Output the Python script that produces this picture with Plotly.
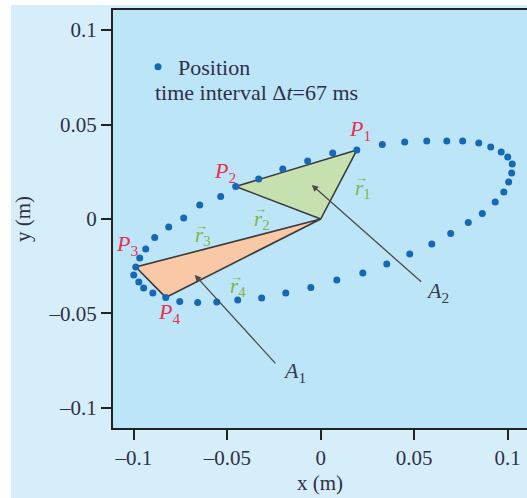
import plotly.graph_objects as go

# ---- data (metres) ----
pos_x = [0.0193, 0.0064, -0.0070, -0.0203, -0.0332, -0.0455, -0.0535, -0.0647, -0.0733,
         -0.0813, -0.0888, -0.0936, -0.0968, -0.0989, -0.1000, -0.0973, -0.0947, -0.0898,
         -0.0829, -0.0754, -0.0658, -0.0556, -0.0444, -0.0316, -0.0187, -0.0053, 0.0086,
         0.0225, 0.0353, 0.0476, 0.0594, 0.0695, 0.0789, 0.0864, 0.0933, 0.0979, 0.1005,
         0.1021, 0.1024, 0.1000, 0.0965, 0.0909, 0.0845, 0.0759, 0.0674, 0.0567, 0.0449,
         0.0329]
pos_y = [0.0365, 0.0349, 0.0307, 0.0265, 0.0212, 0.0172, 0.0119, 0.0074, 0.0005,
         -0.0042, -0.0098, -0.0159, -0.0206, -0.0254, -0.0296, -0.0333, -0.0365, -0.0392,
         -0.0415, -0.0437, -0.0442, -0.0439, -0.0429, -0.0418, -0.0392, -0.0362, -0.0323,
         -0.0286, -0.0238, -0.0185, -0.0132, -0.0077, -0.0019, 0.0029, 0.0090, 0.0143, 0.0196,
         0.0243, 0.0291, 0.0328, 0.0354, 0.0381, 0.0402, 0.0413, 0.0413, 0.0413, 0.0407,
         0.0394]
p_index = [0, 5, 13, 18]          # P1, P2, P3, P4
focus = (0.0, 0.0)
tick_vals = [-0.1, -0.05, 0, 0.05, 0.1]
tick_text = ["\u20130.1", "\u20130.05", "0", "0.05", "0.1"]

# label positions (data coords)
p_label_x = [0.0209, -0.0513, -0.1037, -0.0813]
p_label_y = [0.0471, 0.0249, -0.0138, -0.0500]
r_label_x = [0.0171, -0.0369, -0.0684, -0.0497]
r_label_y = [0.0160, -0.0005, -0.0090, -0.0360]
area_label = [(-0.0139, -0.0810), (0.0626, -0.0386)]
area_point = [(-0.0674, -0.0296), (-0.0048, 0.0180)]
area_tail = [(-0.0235, -0.0772), (0.0545, -0.0339)]

SERIF = "Liberation Serif"
DOT = "#1668b5"
PLOT_BG = "#bde5f8"
PAPER_BG = "#d5eefa"
TXT = "#2f2f48"
GREEN = "#7cb544"

fig = go.Figure()

def tri(i, j, color):
    xs = [focus[0], pos_x[i], pos_x[j], focus[0]]
    ys = [focus[1], pos_y[i], pos_y[j], focus[1]]
    fig.add_trace(go.Scatter(x=xs, y=ys, mode="lines", fill="toself", fillcolor=color,
                             line=dict(color="#3a3a3a", width=1.6), showlegend=False,
                             hoverinfo="skip"))

tri(p_index[0], p_index[1], "#c7e0b0")
tri(p_index[2], p_index[3], "#f9c8a6")

fig.add_trace(go.Scatter(x=pos_x, y=pos_y, mode="markers", name="Position",
                         marker=dict(color=DOT, size=7), showlegend=True))

ann = []
for k in range(4):
    ann.append(dict(x=p_label_x[k], y=p_label_y[k], xref="x", yref="y",
                    text=f"<i>P</i><sub>{k+1}</sub>", showarrow=False,
                    font=dict(family=SERIF, size=22, color="#e8314f")))
    ann.append(dict(x=r_label_x[k], y=r_label_y[k], xref="x", yref="y",
                    xanchor="left", yanchor="middle",
                    text=f"<i>r</i><sub>{k+1}</sub>", showarrow=False,
                    font=dict(family=SERIF, size=21, color=GREEN)))
    ann.append(dict(x=r_label_x[k], y=r_label_y[k], xref="x", yref="y",
                    xanchor="left", yanchor="middle", xshift=0, yshift=11,
                    text="\u2192", showarrow=False,
                    font=dict(family=SERIF, size=13, color=GREEN)))
for k in range(2):
    ann.append(dict(x=area_point[k][0], y=area_point[k][1], xref="x", yref="y",
                    ax=area_tail[k][0], ay=area_tail[k][1], axref="x", ayref="y",
                    text="", showarrow=True, arrowhead=2, arrowsize=1, arrowwidth=1.3,
                    arrowcolor="#4a4a4a"))
    ann.append(dict(x=area_label[k][0], y=area_label[k][1], xref="x", yref="y",
                    text="<i>A</i><sub>%d</sub>" % (k + 1), showarrow=False,
                    font=dict(family=SERIF, size=22, color="#3a3a4a")))
ann.append(dict(x=(153-113)/414, y=(428-93)/418, xref="paper", yref="paper",
                xanchor="left", yanchor="middle", showarrow=False,
                text="time interval \u0394<i>t</i>=67 ms",
                font=dict(family=SERIF, size=22, color=TXT)))

shapes = [
    dict(type="rect", xref="paper", yref="paper", x0=-0.3, x1=(11-113)/414,
         y0=-0.3, y1=1.1, fillcolor="white", line=dict(width=0), layer="below"),
    dict(type="rect", xref="paper", yref="paper", x0=-0.3, x1=1.1,
         y0=(428-5)/418, y1=1.1, fillcolor="white", line=dict(width=0), layer="below"),
]

axis_common = dict(tickvals=tick_vals, ticktext=tick_text, ticks="outside", ticklen=10,
                   tickwidth=2, tickcolor="#222", showline=True, linewidth=2, linecolor="#222",
                   showgrid=False, zeroline=False,
                   tickfont=dict(family=SERIF, size=21, color=TXT))

fig.update_layout(
    width=527, height=498,
    margin=dict(l=113, r=0, t=10, b=70),
    paper_bgcolor=PAPER_BG, plot_bgcolor=PLOT_BG,
    xaxis=dict(range=[-0.1111, 0.1103], mirror=True,
               title=dict(text="x (m)", standoff=6, font=dict(family=SERIF, size=21, color=TXT)),
               **axis_common),
    yaxis=dict(range=[-0.1106, 0.1106], mirror=False,
               title=dict(text="y (m)", standoff=12, font=dict(family=SERIF, size=21, color=TXT)),
               **axis_common),
    showlegend=True,
    legend=dict(x=(138-113)/414, y=(428-46)/418, xanchor="left", yanchor="top",
                bgcolor="rgba(0,0,0,0)", font=dict(family=SERIF, size=22, color=TXT)),
    annotations=ann, shapes=shapes,
)

fig.write_html("out.html", config={"displayModeBar": False},
               post_script="document.body.style.margin='0';")
